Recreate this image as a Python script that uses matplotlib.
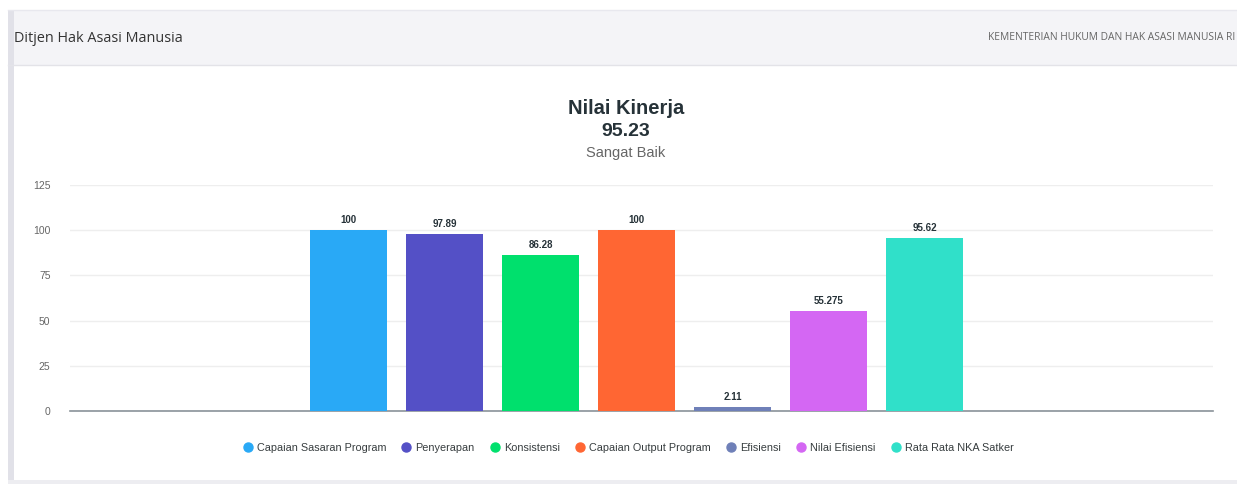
import matplotlib
matplotlib.use("Agg")
import matplotlib.pyplot as plt
from matplotlib.patches import Rectangle
from matplotlib.lines import Line2D

categories = ["Capaian Sasaran Program", "Penyerapan", "Konsistensi",
              "Capaian Output Program", "Efisiensi", "Nilai Efisiensi",
              "Rata Rata NKA Satker"]
values = [100, 97.89, 86.28, 100, 2.11, 55.275, 95.62]
value_labels = ["100", "97.89", "86.28", "100", "2.11", "55.275", "95.62"]
colors = ["#29a9f6", "#5450c6", "#00e06d", "#ff6633", "#6f80b8", "#d467f3", "#30e0c9"]
yticks = [0, 25, 50, 75, 100, 125]

W, H = 1237, 484
fig = plt.figure(figsize=(W / 100, H / 100), dpi=100)
fig.patch.set_facecolor("white")

def fx(px):
    return px / W

def fy(py):
    return 1 - py / H

# header band
fig.patches.append(Rectangle((fx(8), fy(65)), fx(1229), (55) / H, transform=fig.transFigure,
                             facecolor="#f4f4f7", edgecolor="none", zorder=0))
fig.add_artist(Line2D([fx(8), 1], [fy(65), fy(65)], color="#e3e3e8", lw=1))
fig.add_artist(Line2D([fx(8), 1], [fy(10), fy(10)], color="#e8e8ee", lw=1))
# left border strip
fig.patches.append(Rectangle((fx(8), 0), fx(6), fy(10), transform=fig.transFigure,
                             facecolor="#e1e1e8", edgecolor="none", zorder=0))
# bottom band
fig.patches.append(Rectangle((fx(8), 0), fx(1229), 4 / H, transform=fig.transFigure,
                             facecolor="#ededf1", edgecolor="none", zorder=0))

fig.text(fx(14), fy(38), "Ditjen Hak Asasi Manusia", family="Open Sans",
         fontsize=10.4, color="#333333", va="center", ha="left")
fig.text(fx(1235), fy(38), "KEMENTERIAN HUKUM DAN HAK ASASI MANUSIA RI", family="Open Sans",
         fontsize=7.4, color="#666666", va="center", ha="right")

# titles
fig.text(fx(626), fy(108), "Nilai Kinerja", family="Liberation Sans", fontweight="bold",
         fontsize=14.5, color="#263238", ha="center", va="center")
fig.text(fx(626), fy(131), "95.23", family="Liberation Sans", fontweight="bold",
         fontsize=14, color="#263238", ha="center", va="center")
fig.text(fx(626), fy(153), "Sangat Baik", family="Liberation Sans",
         fontsize=10.5, color="#666666", ha="center", va="center")

ax = fig.add_axes([fx(70), fy(411), fx(1213 - 70), (411 - 185) / H])
x = list(range(len(categories)))
ax.bar(x, values, width=0.8, color=colors, zorder=3)
for xi, v, lab in zip(x, values, value_labels):
    ax.annotate(lab, (xi, v), xytext=(0, 3.5), textcoords="offset points",
                ha="center", va="bottom", fontsize=7, fontweight="bold",
                family="Liberation Sans", color="#263238")
ax.set_xlim(-2.9, 9.0)
ax.set_ylim(0, 125)
ax.set_yticks(yticks)
ax.set_yticklabels([str(t) for t in yticks], family="Liberation Sans", fontsize=7.5, color="#666666")
ax.set_xticks([])
ax.grid(axis="y", color="#eeeeee", lw=1, zorder=0)
for s in ["top", "right", "left"]:
    ax.spines[s].set_visible(False)
ax.spines["bottom"].set_color("#8a9299")
ax.spines["bottom"].set_linewidth(1.2)
ax.tick_params(axis="y", length=0, pad=14)
ax.set_facecolor("none")

handles = [Line2D([], [], marker="o", ls="none", markersize=6.5, markerfacecolor=c,
                  markeredgecolor=c) for c in colors]
fig.legend(handles, categories, loc="center", bbox_to_anchor=(fx(628), fy(448)), ncol=7,
           frameon=False, prop={"family": "Liberation Sans", "size": 7.8},
           handletextpad=0.35, columnspacing=1.35, handlelength=1.0, labelcolor="#373d3f")

fig.savefig("out.png", dpi=100)
